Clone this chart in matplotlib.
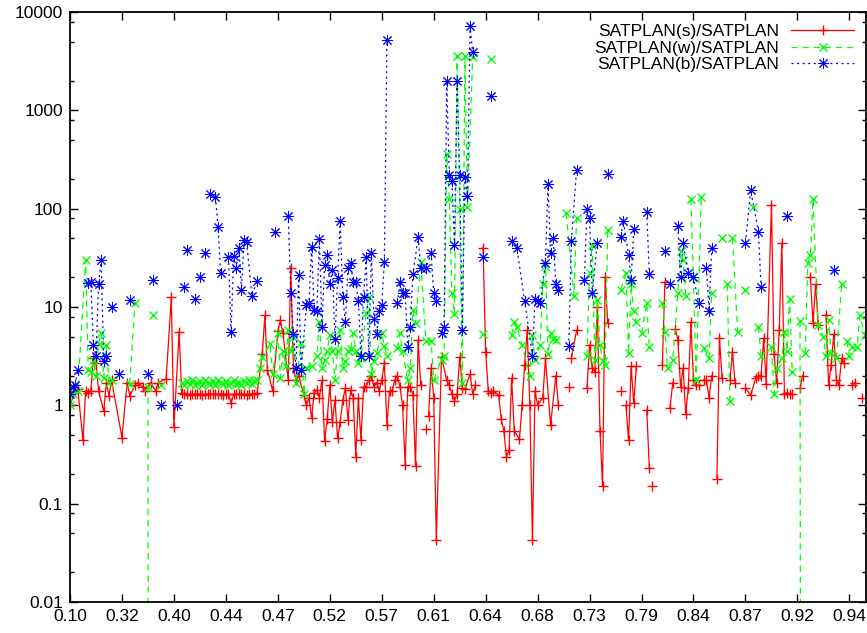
import matplotlib
matplotlib.use("Agg")
import matplotlib.pyplot as plt
from matplotlib.ticker import FixedLocator, LogLocator, NullFormatter
import numpy as np

plt.rcParams['font.family'] = ['Liberation Sans', 'DejaVu Sans']
plt.rcParams['lines.scale_dashes'] = False

# x軸ラベル (20点ごと)
tick_labels = ["0.10", "0.32", "0.40", "0.44", "0.47", "0.52", "0.57", "0.61",
               "0.64", "0.68", "0.73", "0.79", "0.84", "0.87", "0.92", "0.94"]
names = ["SATPLAN(s)/SATPLAN", "SATPLAN(w)/SATPLAN", "SATPLAN(b)/SATPLAN"]

N = None  # 欠損 (線が切れる)

# SATPLAN(s)/SATPLAN
s_x = [0, 2, 3, 5, 6, 7, 8, 9, 10, 11, 13, 14, 15, 16, 20, 22, 23, 25, 26, 28, 29, 31, 33, 34, 37,
       39, 40, 42,
       43, 44, 45, 46, 47, 48, 49, 50, 51, 52, 53, 54, 55, 56, 57, 58, 59, 60, 61, 62,
       63, 64, 65, 66, 67, 68, 69, 70, 71, 72,
       74, 75, 76, 78, 80, 81, 82, 84, 85, 86, 87, 88, 90, 91, 92,
       93, 94, 95, 96, 97, 98, 99, 100, 101, 102, 103, 104, 105, 106, 107, 108, 109, 110,
       111, 112, 113, 114, 115, 116, 117, 118, 119, 120, 121, 122, 123, 124, 125, 126, 127,
       128, 129, 130, 131, 132, 133, 134, 135, N, 137, N,
       138, 139, 140, 141, 143, 145, 146, 147, 148, 149, 150, 151, 152, 154, 155, 156, N,
       159, 160, 161, 162, 163, 165, 166, 167, 168, 169, 170, 171, 173, 174, 175, 176, 177,
       178, 179, 180, 182, 183, 185, 187, 188, N, 192, N, 193, 195, N,
       199, 200, 201, 202, 203, 204, 205, 206, 207, N, 212, N, 214, 215, 216, 217, 218, N,
       222, 223, N, 224, N, 228, 229, N, 231, 232, N,
       233, 234, 235, 236, 237, 238, 239, 240, 241, 242, N, 244, 245, 246, 247, N,
       249, 250, 251, N, 254, 255, 256, N,
       260, 262, 264, 265, 266, 267, 268, 270, 271, 272, 273, 274, 275, 276, 277, 278, N,
       281, 282, N, 285, 286, 287, 288, N, 291, 292, 293, 294, 295, 296, 297, 298, N,
       301, 302, N, 305]
s_y = [1.0, 1.4, 1.45, 0.44, 1.4, 1.35, 1.4, 3.0, 2.7, 1.4, 0.87, 1.7, 1.25, 1.8, 0.47, 1.7, 1.25,
       1.6, 1.7, 1.55, 1.4, 1.7, 1.4, 1.7, 1.85,
       12.5, 0.6, 5.6,
       1.32, 1.3, 1.3, 1.28, 1.3, 1.3, 1.3, 1.3, 1.28, 1.3, 1.3, 1.3, 1.3, 1.3, 1.3, 1.3,
       1.28, 1.3, 1.3, 1.05, 1.3, 1.3, 1.3, 1.3, 1.3, 1.28, 1.3, 1.3, 1.3, 1.32,
       3.3, 8.2, 2.3, 1.4, 5.7, 7.3, 5.4, 1.8, 25, 2.4, 1.8, 2.0, 1.27, 1.0, 1.2,
       0.75, 1.35, 1.43, 1.2, 1.8, 0.43, 0.72, 1.6, 0.68, 1.13, 0.46, 0.68, 1.13, 1.5, 0.71,
       1.43, 1.2, 0.3, 1.2, 0.44, 1.55, 1.55, 1.8, 2.0, 1.55, 1.7, 1.4, 1.8, 2.7, 0.63, 1.4,
       1.4, 1.8, 2.0, 1.55, 1.0, 0.25, 1.55, 1.55, 1.27, 0.24, 4.6, 1.6, N, 0.57, N,
       0.77, 2.4, 1.2, 0.043, 3.1, 1.8, 1.6, 1.3, 1.1, 1.3, 3.1, 1.5, 1.45, 2.1, 1.3, 1.6, N,
       40, 3.5, 1.4, 1.35, 1.4, 1.27, 0.72, 0.55, 0.3, 0.35, 1.9, 0.55, 0.45, 1.0, 2.6, 5.8,
       1.0, 0.043, 1.4, 1.0, 1.2, 3.0, 0.63, 2.0, 1.0, N, 1.55, N, 3.0, 5.8, N,
       1.5, 4.1, 2.4, 2.2, 10, 0.55, 0.15, 20, 6.8, N, 1.4, N, 1.0, 0.44, 2.5, 1.05, 2.5, N,
       0.9, 0.23, N, 0.15, N, 2.6, 18, N, 0.95, 1.7, N,
       6.0, 4.6, 1.55, 2.4, 0.82, 1.5, 7.0, 1.8, 1.6, 1.6, N, 1.8, 1.8, 1.2, 2.0, N,
       0.18, 4.8, 1.9, N, 1.8, 3.5, 1.7, N,
       1.5, 1.27, 1.9, 2.0, 2.0, 4.8, 1.65, 110, 3.3, 1.7, 5.8, 45, 1.3, 1.35, 1.3, 1.3, N,
       1.5, 2.0, N, 20, 6.8, 17, 6.5, N, 8.3, 1.6, 2.6, 5.3, 1.8, 1.6, 3.0, 2.7, N,
       1.6, 1.7, N, 1.2]

# SATPLAN(w)/SATPLAN
w_x = [0, 1, 3, 6, 7, 8, 9, 10, 11, 12, 13, 14, 15, 16, N, 23, 25, N, 30, 31, N, 32, N, 35, N,
       43, 44, 45, 46, 47, 48, 49, 50, 51, 52, 53, 54, 55, 56, 57, 58, 59, 60, 61, 62,
       63, 64, 65, 66, 67, 68, 69, 70, 71, 72,
       73, 74, 77, 78, 80, 81, 82, 83, 84, 85, 86, 87, 89, 90, 91, 93, 95, 96, 97, 98, 99,
       100, 101, 102, 103, 104, 105, 106, 107, 108, 109, 110, 111, 112, 114, 115, 116, 117,
       118, 120, 121, 122, N, 126, 127, 128, 130, 131, 132, 133, 135, 137, 139, 140, 143,
       144, 145, 146, 147, 148, 149, 150, 151, 152, 153, 155, N, 159, N, 162, N,
       170, 171, 172, 174, 177, 178, 179, 181, 182, 183, 184, 185, 186, 187, N,
       191, 194, 195, N, 199, 200, 201, 202, 203, 204, 205, 206, 207, N,
       212, 214, 215, 216, 217, 218, N, 220, 222, 223, N,
       228, 229, 230, 232, 234, 235, 236, 237, N, 239, 240, 241, 243, N, 244, 246, 247, N,
       251, N, 253, 254, N, 255, 257, N, 260, N, 263, N, 265, 266, N,
       270, 271, 272, 274, 275, 276, 277, 278, N, 281, 282, N,
       283, 284, 285, 286, 288, 290, 291, 292, 293, 295, 297, N,
       299, 300, 301, 303, 304, 306]
w_y = [1.0, 1.3, 1.4, 30, 2.3, 2.2, 2.9, 2.0, 4.2, 5.5, 1.9, 4.1, 1.7, 1.8, N, 1.65, 11, N,
       1.55, 1e-20, N, 8.2, N, 1.6, N,
       1.7, 1.6, 1.75, 1.65, 1.8, 1.6, 1.7, 1.75, 1.6, 1.8, 1.7, 1.65, 1.75, 1.6, 1.8, 1.7,
       1.65, 1.75, 1.6, 1.7, 1.8, 1.65, 1.7, 1.6, 1.75, 1.7, 1.8, 1.65, 1.75, 1.8,
       2.4, 3.1, 4.2, 2.1, 5.4, 1.9, 3.6, 2.5, 5.8, 3.6, 5.0, 1.7, 4.3, 1.3, 2.4, 2.5, 3.2,
       7.1, 2.4, 2.9, 3.6, 5.2, 3.6, 1.8, 3.6, 5.8, 2.4, 2.8, 3.6, 3.7, 5.4, 3.6, 2.7, 3.0,
       8.6, 12.5, 2.1, 2.8, 3.4, 5.4, 4.0, 3.2, N, 3.8, 5.4, 3.6, 1.8, 2.4, 9.3, 6.8, 29,
       4.5, 4.5, 1.8, 2.9, 3.2, 360, 125, 14, 8.5, 3600, 100, 1.7, 3600, 105, 3500, N,
       5.3, N, 3300, N,
       5.2, 7.0, 6.3, 4.1, 2.0, 5.2, 2.9, 4.1, 17, 26, 3.3, 5.4, 4.7, 4.6, N,
       90, 13, 80, N, 3.2, 22, 43, 2.9, 11.7, 4.1, 2.8, 2.6, 60, N,
       15, 22, 3.4, 17, 9, 7, N, 5.4, 11, 3.9, N,
       11, 5.6, 2.4, 2.9, 14, 37, 30, 13, N, 125, 20, 1.8, 130, N, 3.8, 3.0, 14, N,
       50, N, 17, 1.1, N, 50, 5.6, N, 15, N, 105, N, 6.3, 3.2, N,
       3.9, 1.3, 2.4, 3.0, 5.6, 3.6, 12, 2.2, N, 7.2, 1e-20, N,
       3.4, 28, 34, 125, 6.5, 5.0, 3.2, 7.4, 3.4, 3.0, 17, N,
       4.5, 3.2, 3.9, 3.9, 8.2, 5.2]

# SATPLAN(b)/SATPLAN
b_x = [0, 1, 2, 3, N, 7, 8, 9, 10, 11, 12, 13, 14, N, 16, N, 19, N, 23, N, 30, N, 32, N, 35, N,
       41, N, 44, N, 45, N, 48, N, 50, N, 52, N, 54, 56, 57, 58, N,
       61, 62, 63, 64, 65, 66, 67, 68, 70, 72, N, 79, N,
       84, 85, 86, 87, 88, 89, 91, 92, 93, 94, 95, 96, 97, 98, 99, 100, 101, 102, 103, 104,
       105, 106, 107, 108, 109, 110, 111, 112, 113, 114, 115, 116, 117, 118, 119, 120, 121,
       122, N, 126, 127, 128, 129, 130, 131, 132, 134, 135, 137, 139, 140, 141, N,
       143, 144, 145, 146, 147, 148, 149, 150, 151, 152, 153, 154, 155, N, 159, N, 162, N,
       170, 172, 175, 178, 179, 180, 181, 183, 184, 185, 186, 187, 188, N,
       192, 193, 195, N, 198, 199, 200, 201, 203, N, 207, N, 212, 213, 215, 216, 217, N,
       222, 223, N, 229, N, 231, N, 234, 235, 236, 238, 240, 242, N, 245, 246, 247, N,
       260, 262, 265, 266, N, 276, N, 294]
b_y = [1.3, 1.55, 1.6, 2.3, N, 17.5, 18, 4.1, 3.2, 17, 30, 2.8, 3.2, N, 10, N, 2.1, N, 11.7, N,
       2.1, N, 19, N, 1.0, N, 1.0, N, 16, N, 38, N, 12, N, 20, N, 35, N, 140, 130, 65, 22, N,
       32, 5.6, 33, 25, 40, 15, 48, 46, 13, 18.5, N, 58, N,
       85, 14, 5.3, 2.4, 21, 2.3, 10.5, 11, 41, 9.3, 9, 49, 6.3, 27, 34, 17, 24, 4.7, 19.5,
       75, 12.6, 7, 25, 28, 18, 18, 11.5, 3.2, 12.6, 32, 3.2, 35, 7.5, 5.3, 9, 10.5, 29,
       5200, N, 11, 18, 14, 14, 3.9, 6.3, 21.5, 51, 25, 25, 35, 14, 11.5, N,
       5.4, 6.3, 2000, 220, 190, 43, 2000, 220, 5.8, 210, 135, 7200, 3900, N, 32, N, 1400, N,
       47, 40, 11.5, 3.2, 12, 11.5, 11, 28, 180, 35, 50, 17, 15, N,
       4.0, 47, 250, N, 19, 100, 80, 14, 45, N, 225, N, 52, 75, 34, 19, 62, N,
       92, 21.5, N, 37, N, 17, N, 66, 20, 45, 22, 20, 11, N, 25, 9, 40, N,
       45, 155, 58, 16, N, 85, N, 24]


def arr(v):
    return np.array([np.nan if a is None else a for a in v], dtype=float)


fig = plt.figure(figsize=(8.67, 6.33), dpi=100)
ax = fig.add_axes([70 / 867, 31 / 633, 796 / 867, 590 / 633])

ax.plot(arr(s_x), arr(s_y), color='#ff0000', lw=0.9, ls='-',
        marker='+', ms=7, mew=1.0, label=names[0])
ax.plot(arr(w_x), arr(w_y), color='#00ff00', lw=0.9, ls=(0, (4.5, 3.5)),
        marker='x', ms=5.5, mew=1.0, label=names[1])
ax.plot(arr(b_x), arr(b_y), color='#0000ff', lw=0.9, ls=(0, (1.5, 2.5)),
        marker=(8, 2, 0), ms=8, mew=0.7, label=names[2])

ax.set_yscale('log')
ax.set_ylim(0.01, 10000)
ax.set_xlim(0, 306.4)

ax.xaxis.set_major_locator(FixedLocator(range(0, 20 * len(tick_labels), 20)))
ax.set_xticklabels(tick_labels)
ax.set_yticks([0.01, 0.1, 1, 10, 100, 1000, 10000])
ax.set_yticklabels(["0.01", "0.1", "1", "10", "100", "1000", "10000"])
ax.yaxis.set_minor_locator(LogLocator(base=10, subs=(2, 5, 8)))
ax.yaxis.set_minor_formatter(NullFormatter())

ax.tick_params(which='both', direction='in', top=True, right=True, labelsize=12.5, width=1.0)
ax.tick_params(which='major', length=6, pad=5)
ax.tick_params(which='minor', length=3)
for sp in ax.spines.values():
    sp.set_linewidth(1.3)

leg = ax.legend(loc='upper right', frameon=False, markerfirst=False, fontsize=12.5,
                handlelength=3.6, handletextpad=0.7, labelspacing=0.08,
                borderaxespad=0.4, borderpad=0.3, numpoints=1)

fig.savefig("out.png", dpi=100)
